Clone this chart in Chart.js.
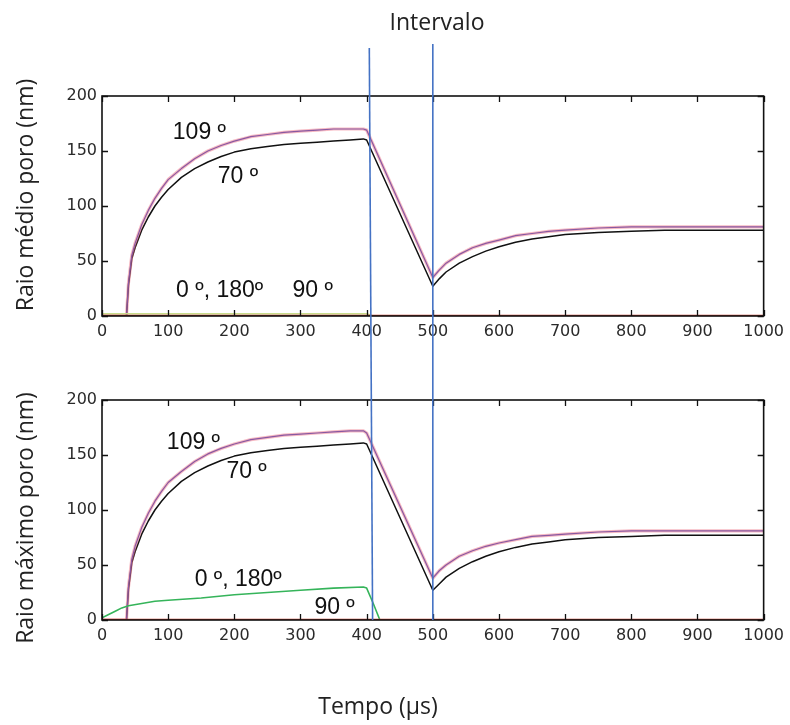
<!DOCTYPE html>
<html>
<head>
<meta charset="utf-8">
<script src="https://cdn.jsdelivr.net/npm/chart.js@4.4.1/dist/chart.umd.min.js"></script>
<style>
  html, body { margin:0; padding:0; background:#fff; }
  #wrap { position:relative; width:790px; height:725px; overflow:hidden; }
  canvas { position:absolute; left:0; }
  .lbl { position:absolute; font-family:"Open Sans", sans-serif; color:#222; white-space:nowrap; transform:translate(-50%,-50%); }
  .rot { transform:translate(-50%,-50%) rotate(-90deg); }
</style>
</head>
<body>
<div id="wrap">
  <canvas id="cTop" width="790" height="360" style="top:0"></canvas>
  <canvas id="cBot" width="790" height="365" style="top:360px"></canvas>
  <canvas id="cOver" width="790" height="725" style="top:0;pointer-events:none"></canvas>
  <div class="lbl" style="left:437px;top:21px;font-size:23px">Intervalo</div>
  <div class="lbl" style="left:378px;top:705px;font-size:23px">Tempo (µs)</div>
  <div class="lbl rot" style="left:24px;top:195px;font-size:23px">Raio médio poro (nm)</div>
  <div class="lbl rot" style="left:24px;top:518px;font-size:23px">Raio máximo poro (nm)</div>
</div>
<script>
// ---------- data ----------
const tempoCurva = [0,37,40,45,50,60,70,80,90,100,120,140,160,180,200,225,250,275,300,325,350,375,395,400,500,510,520,540,560,580,600,625,650,675,700,750,800,850,900,950,1000];
const medio109   = [0,0,30,55,66,83,96,107,116,124,134,143,150,155,159,163,165,167,168,169,170,170,170,169,35,42,48,56,62,66,69,73,75,77,78,80,81,81,81,81,81];
const medio70    = [0,0,28,52,62,78,90,100,108,115,126,134,140,145,149,152,154,156,157,158,159,160,161,160,27,34,40,48,54,59,63,67,70,72,74,76,77,78,78,78,78];
const maximo109  = [0,0,30,55,67,84,97,108,117,125,135,144,151,156,160,164,166,168,169,170,171,172,172,170,38,45,50,58,63,67,70,73,76,77,78,80,81,81,81,81,81];
const maximo70   = [0,0,28,52,62,78,90,100,108,115,126,134,140,145,149,152,154,156,157,158,159,160,161,160,27,33,39,47,53,58,62,66,69,71,73,75,76,77,77,77,77];

const tempoVerdeMedio = [0,400,410,1000];
const medioVerde      = [2,2,0,0];
const tempoVerdeMax   = [0,10,20,30,40,60,80,100,150,200,250,300,350,395,400,410,420,1000];
const maximoVerde     = [2,5,8,11,13,15,17,18,20,23,25,27,29,30,29,15,0,0];

const tempoZero = [0,1000];
const valorZero = [0,0];

const xTicks = [0,100,200,300,400,500,600,700,800,900,1000];
const yTicks = [0,50,100,150,200];

const intervalo = [[404,409],[500,500]]; // time of each marker line at its top / bottom end

const rotulosMedio  = [['109 º',107,167],['70 º',175,127],['0 º, 180º',112,23],['90 º',288,23]];
const rotulosMaximo = [['109 º',98,161],['70 º',188,135],['0 º, 180º',140,37],['90 º',321,11]];

// ---------- helpers ----------
const pts = (xs, ys) => xs.map((x,i)=>({x, y: ys[i]}));

function frameTicks(rotulos){
  return {
    id:'frame',
    afterDatasetsDraw(chart){
      const {ctx, chartArea:a, scales:{x,y}} = chart;
      ctx.save();
      ctx.strokeStyle = '#111';
      ctx.lineWidth = 1.3;
      ctx.beginPath();
      xTicks.forEach(v=>{
        const px = Math.round(x.getPixelForValue(v))+0.5;
        ctx.moveTo(px,a.bottom); ctx.lineTo(px,a.bottom-6);
        ctx.moveTo(px,a.top); ctx.lineTo(px,a.top+6);
      });
      yTicks.forEach(v=>{
        const py = Math.round(y.getPixelForValue(v))+0.5;
        ctx.moveTo(a.left,py); ctx.lineTo(a.left+6,py);
        ctx.moveTo(a.right,py); ctx.lineTo(a.right-6,py);
      });
      ctx.stroke();
      ctx.lineWidth = 1.6;
      ctx.strokeRect(a.left, a.top, a.right-a.left, a.bottom-a.top);
      ctx.fillStyle = '#111';
      ctx.font = '23px "Liberation Sans", Arial, sans-serif';
      ctx.textBaseline = 'middle';
      ctx.textAlign = 'left';
      rotulos.forEach(([t,vx,vy])=>{
        ctx.fillText(t, x.getPixelForValue(vx), y.getPixelForValue(vy));
      });
      ctx.restore();
    }
  };
}

function makeChart(id, sets, rotulos, padTop, xHeight){
  return new Chart(document.getElementById(id), {
    type:'line',
    data:{ datasets: sets },
    options:{
      responsive:false,
      animation:false,
      events:[],
      layout:{ padding:{ top:padTop, right:22, left:0, bottom:0 } },
      plugins:{ legend:{display:false}, tooltip:{enabled:false} },
      elements:{ point:{radius:0}, line:{tension:0, borderCapStyle:'round', borderJoinStyle:'round'} },
      scales:{
        x:{
          type:'linear', min:0, max:1000,
          grid:{display:false, drawTicks:false}, border:{display:false},
          afterBuildTicks(s){ s.ticks = xTicks.map(v=>({value:v})); },
          afterFit(s){ s.height = xHeight; },
          ticks:{ padding:6, maxRotation:0, autoSkip:false, color:'#2a2a2a',
                  callback:v=>String(v),
                  font:{family:'"DejaVu Sans", sans-serif', size:16} }
        },
        y:{
          type:'linear', min:0, max:200,
          grid:{display:false, drawTicks:false}, border:{display:false},
          afterBuildTicks(s){ s.ticks = yTicks.map(v=>({value:v})); },
          afterFit(s){ s.width = 102; },
          ticks:{ padding:5, color:'#2a2a2a',
                  callback:v=>String(v),
                  font:{family:'"DejaVu Sans", sans-serif', size:16} }
        }
      }
    },
    plugins:[frameTicks(rotulos)]
  });
}

function series(x109, y109, x70, y70, xg, yg, gColor){
  return [
    { data: pts(tempoZero, valorZero), borderColor:'#c0392b', borderWidth:2.5 },
    { data: pts(xg, yg), borderColor:gColor, borderWidth:1.6 },
    { data: pts(tempoZero, valorZero), borderColor:'#2a7a35', borderWidth:1.4 },
    { data: pts(x109, y109), borderColor:'rgba(235,100,120,0.45)', borderWidth:3.2 },
    { data: pts(x109, y109), borderColor:'#3a4fc4', borderWidth:1.2 },
    { data: pts(x70, y70), borderColor:'#111', borderWidth:1.5 }
  ];
}

const chartTop = makeChart('cTop',
  series(tempoCurva, medio109, tempoCurva, medio70, tempoVerdeMedio, medioVerde, '#c8dc8a'),
  rotulosMedio, 96, 44);
const chartBot = makeChart('cBot',
  series(tempoCurva, maximo109, tempoCurva, maximo70, tempoVerdeMax, maximoVerde, '#35b45a'),
  rotulosMaximo, 40, 105);

// ---------- marker lines across both panels ----------
(function(){
  const ctx = document.getElementById('cOver').getContext('2d');
  const yStart = [48, 44];
  const yEnd = 360 + chartBot.chartArea.bottom;
  ctx.strokeStyle = '#4472c4';
  ctx.lineWidth = 1.6;
  intervalo.forEach(([a,b],i)=>{
    ctx.beginPath();
    ctx.moveTo(chartTop.scales.x.getPixelForValue(a), yStart[i]);
    ctx.lineTo(chartBot.scales.x.getPixelForValue(b), yEnd);
    ctx.stroke();
  });
})();
</script>
</body>
</html>
